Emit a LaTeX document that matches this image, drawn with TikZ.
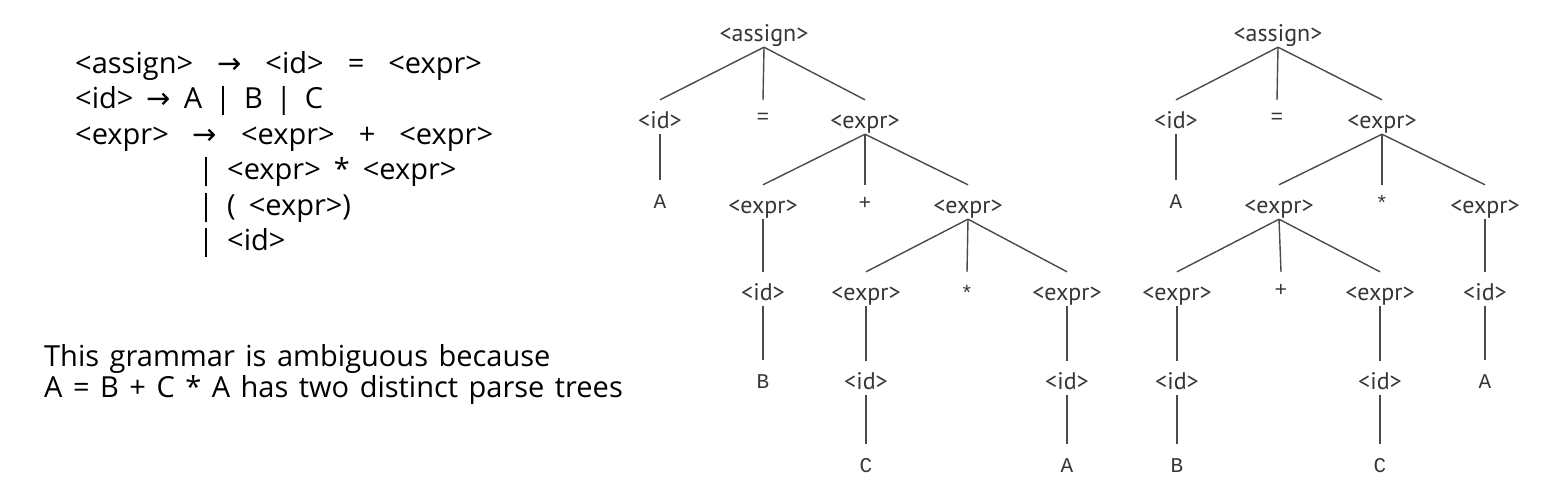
\documentclass[tikz,border=0pt]{standalone}
\usepackage{fontspec}
\setmainfont{Open Sans}
\newfontfamily\treefont{PT Sans}
\newfontfamily\termfont{Liberation Mono}
\newfontfamily\arrowfont{DejaVu Sans}
\usepackage{xcolor}
\usetikzlibrary{positioning}

\definecolor{treegray}{HTML}{363636}
\definecolor{linegray}{HTML}{4A4A4A}

% text sizes with fixed word spaces
\newcommand{\rulesize}{\fontsize{29}{34}\selectfont\spaceskip 13pt\relax}
\newcommand{\widesize}{\fontsize{29}{34}\selectfont\spaceskip 24pt\relax}
\newcommand{\remarksize}{\fontsize{29}{34}\selectfont\spaceskip 10.5pt\relax}

\tikzset{
  nt/.style={font=\treefont\fontsize{24}{28}\selectfont, text=treegray,
    inner sep=0pt, text height=28pt, text depth=6pt, anchor=base},
  tm/.style={nt, font=\termfont\fontsize{21}{24}\selectfont},
  branch/.style={draw=linegray, line width=1.4pt},
  rule/.style={font=\rulesize, inner sep=0pt, anchor=base west},
  widerule/.style={rule, font=\widesize},
  remark/.style={rule, font=\remarksize},
}

\begin{document}
\begin{tikzpicture}[x=1pt, y=-1pt]
    \useasboundingbox (0,0) rectangle (1549,498);

    % Grammar
    \node[widerule] (g1) at (75,73) {<assign> {\arrowfont→} <id> = <expr>};
    \node[rule] (g2) at (75,108) {<id> {\arrowfont→} A | B | C};
    \node[widerule] (g3) at (75,144) {<expr> {\arrowfont→} <expr> + <expr>};
    \node[rule] (g4) at (198,179) {| <expr> * <expr>};
    \node[rule] (g5) at (198,215) {| ( <expr>)};
    \node[rule] (g6) at (198,250) {| <id>};

    % Remark
    \node[remark] (n1) at (44,366) {This grammar is ambiguous because};
    \node[remark] (n2) at (44,397) {A = B + C * A has two distinct parse trees};

    % --- First parse tree ---
    \node[nt] (r1) at (764,41) {<assign>};
    \node[nt] (i1) at (660,128) {<id>};
    \node[tm] (q1) at (763,128) {\raisebox{5pt}{=}};
    \node[nt] (x1) at (865,128) {<expr>};
    \node[tm] (a1) at (660,208) {A};
    \node[nt] (x2) at (763,213) {<expr>};
    \node[tm] (p1) at (865,213) {\raisebox{4pt}{+}};
    \node[nt] (x3) at (968,213) {<expr>};
    \node[nt] (i2) at (763,300) {<id>};
    \node[nt] (x4) at (866,300) {<expr>};
    \node[tm] (m1) at (967,300) {*};
    \node[nt] (x5) at (1067,300) {<expr>};
    \node[tm] (b1) at (763,388) {B};
    \node[nt] (i3) at (866,389) {<id>};
    \node[nt] (i4) at (1067,389) {<id>};
    \node[tm] (c1) at (866,472) {C};
    \node[tm] (a2) at (1067,472) {A};

    % --- Second parse tree ---
    \node[nt] (r2) at (1278,41) {<assign>};
    \node[nt] (j1) at (1176,128) {<id>};
    \node[tm] (q2) at (1277,128) {\raisebox{5pt}{=}};
    \node[nt] (y1) at (1382,128) {<expr>};
    \node[tm] (a3) at (1176,208) {A};
    \node[nt] (y2) at (1279,213) {<expr>};
    \node[tm] (m2) at (1382,213) {\raisebox{3pt}{*}};
    \node[nt] (y3) at (1485,213) {<expr>};
    \node[nt] (y4) at (1177,300) {<expr>};
    \node[tm] (p2) at (1281,300) {\raisebox{4pt}{+}};
    \node[nt] (y5) at (1380,300) {<expr>};
    \node[nt] (j2) at (1485,300) {<id>};
    \node[nt] (j3) at (1177,389) {<id>};
    \node[nt] (j4) at (1380,389) {<id>};
    \node[tm] (a4) at (1485,388) {A};
    \node[tm] (b2) at (1177,472) {B};
    \node[tm] (c2) at (1380,472) {C};

    % Branches
    \foreach \p/\c in {r1/i1, r1/q1, r1/x1, i1/a1, x1/x2, x1/p1, x1/x3,
        x2/i2, i2/b1, x3/x4, x3/m1, x3/x5, x4/i3, i3/c1, x5/i4, i4/a2,
        r2/j1, r2/q2, r2/y1, j1/a3, y1/y2, y1/m2, y1/y3, y2/y4, y2/p2,
        y2/y5, y3/j2, j2/a4, y4/j3, j3/b2, y5/j4, j4/c2}
        \draw[branch] (\p.south) -- (\c.north);
\end{tikzpicture}
\end{document}
